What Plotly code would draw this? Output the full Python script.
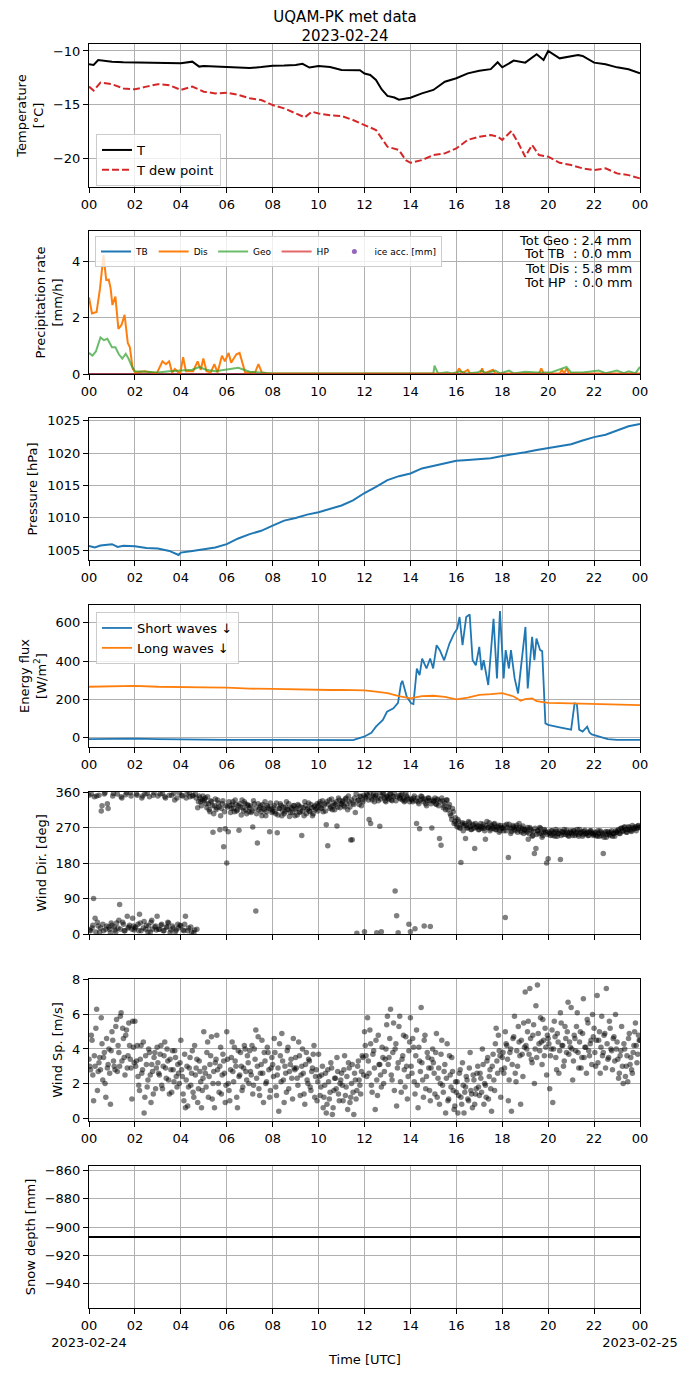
import pandas as pd
import plotly.graph_objects as go

BASE = pd.Timestamp("2023-02-24 00:00")
END = pd.Timestamp("2023-02-25 00:00")

# ---------------- data ----------------
t_hours = [0, 0.2, 0.4, 0.7, 1, 1.5, 2, 2.5, 3, 3.5, 4, 4.5, 4.8, 5, 5.5, 6, 6.5, 7, 7.5, 8,
           8.5, 9, 9.3, 9.6, 10, 10.5, 11, 11.5, 11.8, 12, 12.25, 12.5, 12.75, 13, 13.3, 13.5,
           14, 14.5, 15, 15.5, 16, 16.5, 17, 17.5, 17.8, 18, 18.5, 19, 19.5, 19.8, 20, 20.5,
           21, 21.3, 21.5, 22, 22.5, 23, 23.5, 24]
t_vals = [-11.25, -11.3, -10.84, -10.95, -11.0, -11.05, -11.06, -11.1, -11.15, -11.12, -11.15,
          -11.0, -11.46, -11.4, -11.45, -11.46, -11.5, -11.6, -11.5, -11.37, -11.35, -11.3, -11.2,
          -11.55, -11.4, -11.5, -11.78, -11.75, -11.8, -12.1, -12.24, -12.7, -13.6, -14.2, -14.35,
          -14.55, -14.36, -13.96, -13.64, -12.87, -12.55, -12.09, -11.84, -11.7, -11.06, -11.53,
          -10.9, -11.09, -10.31, -10.84, -10.0, -10.69, -10.53, -10.37, -10.47, -11.09, -11.25,
          -11.53, -11.71, -12.09]

td_hours = [0, 0.2, 0.5, 1, 1.5, 2, 2.5, 3, 3.5, 4, 4.5, 5, 5.5, 6, 6.5, 7, 7.5, 8, 8.5, 9,
            9.4, 9.7, 10, 10.5, 11, 11.5, 12, 12.5, 13, 13.5, 13.8, 14, 14.5, 15, 15.5, 16,
            16.5, 17, 17.5, 17.8, 18, 18.4, 18.7, 19, 19.3, 19.6, 20, 20.5, 21, 21.5, 22, 22.5,
            23, 23.5, 24]
td_vals = [-13.33, -13.7, -12.96, -13.1, -13.5, -13.58, -13.33, -13.1, -13.2, -13.64, -13.33,
           -13.8, -13.96, -13.9, -14.1, -14.42, -14.58, -15.05, -15.36, -15.83, -16.2, -15.67,
           -15.83, -16.0, -16.07, -16.45, -16.9, -17.38, -18.94, -19.25, -20.2, -20.44, -20.19,
           -19.72, -19.56, -19.1, -18.3, -18.0, -17.85, -18.0, -18.3, -17.48, -18.6, -19.87,
           -18.78, -19.72, -19.87, -20.44, -20.65, -20.96, -21.12, -20.96, -21.43, -21.59, -21.9]

dis_hours = [0, 0.13, 0.33, 0.48, 0.63, 0.75, 0.86, 0.94, 1.02, 1.15, 1.28, 1.42, 1.55, 1.69,
             1.78, 1.9, 2.01, 2.43, 2.95, 3.2, 3.35, 3.49, 3.62, 3.74, 3.97, 4.1, 4.22, 4.54,
             4.73, 4.87, 4.98, 5.12, 5.3, 5.46, 5.6, 5.79, 5.92, 6.08, 6.19, 6.42, 6.56, 6.69,
             6.8, 7.23, 7.38, 7.53, 7.8, 12, 16.0, 16.12, 16.25, 16.5, 16.6, 17.05, 17.12, 17.2,
             17.6, 17.7, 19.6, 19.7, 19.8, 20.5, 20.6, 20.7, 20.8, 20.9, 24]
dis_rate = [2.72, 2.15, 2.2, 3.04, 4.22, 3.34, 3.35, 3.05, 2.45, 2.75, 1.6, 1.75, 2.1, 1.1,
            0.95, 0.2, 0.05, 0.1, 0.02, 0.45, 0.35, 0.45, 0.05, 0.18, 0.0, 0.6, 0.1, 0.1,
            0.45, 0.15, 0.55, 0.1, 0.05, 0.35, 0.05, 0.65, 0.45, 0.75, 0.4, 0.7, 0.75, 0.4,
            0.05, 0.05, 0.35, 0.05, 0.02, 0.02, 0.02, 0.2, 0.02, 0.15, 0.02, 0.02, 0.2, 0.02,
            0.15, 0.02, 0.02, 0.2, 0.02, 0.02, 0.15, 0.02, 0.2, 0.02, 0.02]

geo_hours = [0, 0.15, 0.3, 0.5, 0.65, 0.8, 1.0, 1.15, 1.3, 1.45, 1.6, 1.72, 1.85, 2.0, 2.5,
             3.0, 3.5, 4.0, 4.5, 4.8, 5.1, 5.5, 6.0, 6.5, 7.0, 7.5, 8.0, 15.0, 15.05, 15.2,
             15.6, 15.8, 16.2, 16.4, 16.9, 17.1, 17.3, 17.7, 17.9, 18.3, 18.5, 19.0, 19.5,
             20.1, 20.8, 21.0, 21.5, 22.2, 22.5, 23.0, 23.3, 23.5, 23.8, 24]
geo_rate = [0.75, 0.65, 0.8, 1.3, 1.2, 1.25, 0.95, 0.95, 0.7, 0.55, 0.72, 0.55, 0.3, 0.1, 0.08,
            0.05, 0.1, 0.12, 0.15, 0.25, 0.15, 0.1, 0.15, 0.22, 0.08, 0.05, 0.02, 0.02, 0.3,
            0.02, 0.06, 0.02, 0.1, 0.02, 0.05, 0.12, 0.02, 0.12, 0.02, 0.12, 0.02, 0.08, 0.05,
            0.05, 0.25, 0.05, 0.05, 0.12, 0.03, 0.12, 0.03, 0.1, 0.03, 0.25]

tb_hours = [0, 24]
tb_rate = [0.0, 0.0]
hp_hours = [0, 24]
hp_rate = [0.0, 0.0]

precip_totals = ["Tot Geo : 2.4 mm", "Tot TB\u00a0\u00a0: 0.0 mm",
                 "Tot Dis : 5.8 mm", "Tot HP\u00a0\u00a0: 0.0 mm"]

p_hours = [0, 0.25, 0.5, 1, 1.25, 1.5, 2, 2.5, 3, 3.5, 3.9, 4, 4.5, 5, 5.5, 6, 6.5, 7, 7.5,
           8, 8.5, 9, 9.5, 10, 10.5, 11, 11.5, 12, 12.5, 13, 13.5, 14, 14.5, 15, 15.5, 16,
           16.5, 17, 17.5, 18, 18.5, 19, 19.5, 20, 20.5, 21, 21.5, 22, 22.5, 23, 23.5, 24]
p_vals = [1005.68, 1005.42, 1005.73, 1005.94, 1005.52, 1005.68, 1005.62, 1005.36, 1005.26,
          1004.9, 1004.27, 1004.64, 1004.9, 1005.16, 1005.42, 1005.94, 1006.82, 1007.49, 1008.0,
          1008.79, 1009.57, 1009.99, 1010.5, 1010.87, 1011.39, 1011.91, 1012.69, 1013.83,
          1014.77, 1015.81, 1016.43, 1016.84, 1017.62, 1018.04, 1018.51, 1018.82, 1018.92,
          1019.03, 1019.18, 1019.55, 1019.81, 1020.12, 1020.48, 1020.74, 1021.1, 1021.36,
          1021.94, 1022.45, 1022.82, 1023.49, 1024.12, 1024.48]

sw_hours = [0, 1, 2, 3, 4, 6, 8, 10, 11, 11.5, 11.98, 12.3, 12.5, 12.8, 12.98, 13.26, 13.46,
            13.59, 13.65, 13.84, 14.03, 14.13, 14.28, 14.4, 14.51, 14.7, 14.86, 14.99, 15.14,
            15.28, 15.47, 15.7, 15.9, 16.04, 16.14, 16.27, 16.43, 16.58, 16.71, 16.85, 17.0,
            17.1, 17.19, 17.39, 17.62, 17.77, 17.9, 18.06, 18.15, 18.29, 18.38, 18.54, 18.69,
            19.01, 19.11, 19.3, 19.4, 19.49, 19.65, 19.74, 19.88, 20.0, 20.5, 21.0, 21.15,
            21.25, 21.35, 21.5, 21.7, 21.8, 21.9, 22.2, 22.6, 23, 24]
sw_vals = [-10, -8, -7, -10, -12, -14, -14, -15, -15, -15, 3, 24, 56, 91, 134, 152, 181, 282,
           296, 213, 178, 174, 361, 326, 413, 361, 413, 361, 483, 457, 404, 492, 544, 570, 631,
           483, 631, 645, 404, 378, 474, 352, 404, 274, 622, 309, 662, 309, 457, 361, 457, 309,
           230, 579, 256, 527, 404, 518, 457, 452, 73, 65, 52, 40, 178, 175, 40, 30, 56, 25,
           15, 3, -10, -14, -14]

lw_hours = [0, 1, 2, 3, 4, 5, 6, 7, 8, 9, 10, 10.5, 11, 12, 12.5, 13, 13.5, 14, 14.5, 15,
            15.5, 16, 16.5, 17, 17.5, 18, 18.5, 18.8, 19, 19.3, 19.5, 20, 21, 22, 23, 24]
lw_vals = [265, 266, 270, 265, 262, 262, 260, 255, 254, 251, 251, 248, 249, 246, 239, 232,
           216, 204, 216, 218, 212, 199, 208, 222, 226, 232, 214, 192, 200, 204, 190, 181,
           178, 176, 172, 169]

# wind direction, samples at :00, :04, :08 ... (15 per hour)
wdir_a = [
    352, 8, 15, 90, 40, 350, 20, 5, 312, 25, 355, 12, 330, 18, 3,
    22, 356, 10, 28, 15, 75, 348, 30, 8, 353, 45, 18, 358, 12, 20,
    15, 355, 25, 50, 8, 350, 32, 12, 357, 20, 5, 35, 352, 18, 10,
    350, 12, 22, 356, 8, 345, 18, 28, 4, 352, 15, 340, 10, 25, 358,
    20, 350, 8, 45, 355, 15, 348, 5, 352, 10, 345, 320, 350, 335, 340,
    338, 345, 320, 330, 310, 335, 258, 325, 315, 340, 322, 300, 330, 221, 267,
    180, 259, 325, 318, 335, 310, 328, 315, 263, 322, 340, 312, 330, 305, 325,
    320, 308, 271, 330, 58, 231, 315, 325, 300, 318, 335, 310, 322, 259, 316,
    312, 325, 305, 257, 318, 330, 300, 322, 310, 335, 315, 298, 320, 308, 326,
    315, 302, 325, 310, 250, 320, 335, 305, 318, 312, 328, 300, 322, 315, 330,
    325, 335, 318, 310, 330, 277, 224, 340, 322, 315, 332, 328, 274, 345, 320,
    330, 338, 322, 345, 315, 335, 238, 239, 328, 308, 2, 340, 350, 325, 335,
    6, 345, 352, 290, 280, 340, 355, 348, 3, 338, 273, 6, 358, 345, 335,
    350, 342, 355, 338, 348, 109, 46, 3, 345, 352, 340, 335, 358, 347, 25,
    6, 340, 345, 13, 280, 335, 267, 350, 342, 20, 330, 338, 345, 19, 269,
    335, 345, 328, 340, 242, 225, 338, 325, 315, 340, 322, 305, 290, 310, 285,
    278, 290, 270, 181, 282, 275, 242, 268, 285, 272, 265, 278, 217, 270, 275,
    265, 280, 272, 268, 240, 285, 270, 262, 276, 268, 280, 265, 272, 258, 275,
    270, 262, 42, 278, 194, 268, 260, 275, 265, 270, 258, 280, 262, 268, 255,
    265, 258, 240, 270, 262, 250, 204, 217, 262, 255, 268, 245, 258, 262, 180,
    191, 255, 262, 250, 258, 265, 248, 255, 189, 260, 252, 258, 263, 250, 256,
    258, 250, 262, 255, 265, 248, 257, 260, 252, 263, 255, 250, 258, 262, 254,
    252, 258, 248, 255, 262, 250, 204, 256, 245, 260, 253, 258, 248, 255, 262,
    258, 265, 255, 268, 262, 272, 258, 265, 270, 262, 275, 266, 272, 268, 275,
    270,
]
# wind direction, samples at :02, :06, :10 ... (15 per hour)
wdir_b = [
    10, 355, 22, 348, 5, 30, 352, 15, 325, 8, 358, 20, 318, 12, 28,
    350, 18, 5, 355, 35, 12, 345, 25, 8, 358, 15, 22, 350, 40, 10,
    18, 352, 8, 28, 345, 15, 355, 22, 5, 348, 30, 12, 358, 20, 45,
    12, 355, 25, 8, 348, 18, 30, 352, 10, 20, 357, 6, 345, 15, 22,
    352, 10, 25, 345, 8, 358, 18, 350, 3, 355, 12, 335, 345, 325, 350,
    342, 330, 348, 315, 338, 325, 305, 342, 320, 332, 264, 318, 338, 310, 325,
    322, 335, 308, 328, 318, 340, 312, 325, 330, 302, 320, 335, 315, 328, 310,
    325, 312, 338, 318, 305, 330, 320, 310, 328, 315, 300, 325, 318, 332, 308,
    320, 310, 332, 302, 318, 326, 312, 305, 322, 316, 330, 308, 318, 325, 300,
    318, 328, 308, 322, 312, 300, 326, 316, 332, 310, 320, 305, 325, 318, 312,
    330, 320, 338, 325, 312, 335, 328, 318, 342, 325, 315, 335, 322, 340, 330,
    335, 325, 342, 330, 350, 322, 340, 332, 345, 355, 338, 328, 348, 340, 352,
    348, 355, 340, 358, 345, 350, 335, 352, 345, 358, 342, 350, 355, 338, 348,
    345, 355, 340, 350, 358, 338, 348, 352, 342, 355, 345, 338, 350, 342, 335,
    342, 335, 350, 338, 345, 330, 340, 348, 335, 342, 325, 345, 338, 330, 340,
    338, 330, 342, 325, 335, 345, 320, 332, 340, 315, 328, 300, 318, 280, 295,
    272, 285, 268, 278, 262, 280, 275, 270, 282, 265, 276, 268, 280, 272, 264,
    272, 268, 278, 262, 275, 270, 282, 266, 272, 278, 264, 270, 276, 262, 268,
    268, 275, 262, 270, 278, 255, 268, 272, 262, 276, 266, 270, 258, 274, 264,
    262, 270, 255, 266, 248, 260, 268, 252, 262, 270, 256, 250, 265, 258, 252,
    258, 250, 262, 255, 248, 260, 254, 262, 250, 258, 265, 252, 256, 248, 262,
    255, 262, 250, 258, 252, 265, 256, 248, 260, 254, 258, 250, 262, 256, 250,
    256, 250, 262, 248, 258, 254, 245, 260, 252, 257, 250, 262, 255, 248, 258,
    262, 255, 268, 260, 270, 264, 258, 272, 265, 260, 270, 268, 262, 274, 270,
]

# wind speed, samples at :00, :04, :08 ... (15 per hour)
wspd_a = [
    3.4, 2.8, 4.5, 1.0, 3.0, 6.3, 2.7, 3.5, 5.8, 2.2, 3.8, 1.2, 2.9, 4.0, 0.8,
    5.0, 3.3, 2.8, 5.7, 4.2, 3.0, 6.1, 5.2, 3.5, 4.8, 2.9, 5.5, 3.4, 1.1, 4.1,
    5.6, 3.3, 2.4, 1.6, 4.2, 2.8, 0.3, 3.6, 1.8, 4.0, 2.5, 3.1, 1.4, 3.8, 2.9,
    3.2, 2.5, 4.2, 1.7, 3.6, 2.9, 4.0, 2.2, 3.4, 1.5, 2.8, 3.9, 2.4, 3.1, 2.0,
    4.5, 2.4, 1.0, 0.6, 3.0, 1.8, 3.5, 2.6, 1.5, 4.2, 2.9, 0.9, 3.3, 2.1, 1.6,
    5.0, 2.6, 3.8, 1.2, 3.1, 4.7, 2.0, 0.6, 3.4, 2.8, 1.5, 4.1, 2.5, 3.3, 0.9,
    5.0, 2.0, 1.0, 3.5, 2.7, 4.1, 3.0, 0.6, 2.4, 3.8, 1.6, 2.9, 4.0, 2.2, 3.2,
    3.9, 2.5, 1.4, 4.0, 5.1, 3.0, 1.7, 2.6, 4.5, 0.9, 3.3, 2.1, 3.8, 1.2, 2.9,
    3.1, 4.6, 1.8, 2.5, 0.4, 3.6, 4.9, 2.2, 3.0, 1.5, 4.1, 2.7, 3.4, 1.1, 2.9,
    3.5, 2.3, 4.4, 1.3, 3.0, 2.6, 0.8, 3.8, 2.0, 3.3, 1.6, 2.9, 4.2, 2.4, 1.0,
    3.7, 1.3, 2.5, 0.6, 1.9, 0.3, 2.8, 1.1, 3.2, 0.2, 1.6, 2.3, 3.5, 1.4, 2.0,
    2.6, 1.0, 3.6, 1.8, 0.5, 2.9, 1.2, 3.1, 0.2, 2.2, 1.6, 3.3, 1.9, 2.7, 3.5,
    5.0, 3.6, 5.8, 2.6, 4.3, 1.5, 3.9, 0.5, 2.2, 4.8, 3.1, 1.8, 3.5, 2.7, 4.0,
    5.9, 3.5, 6.3, 2.2, 5.5, 4.0, 0.7, 3.2, 5.9, 1.5, 3.6, 2.8, 4.7, 1.1, 3.9,
    5.8, 2.6, 4.1, 1.4, 5.1, 0.6, 3.3, 6.4, 2.2, 4.5, 1.7, 3.8, 2.9, 1.0, 3.4,
    3.2, 1.4, 4.9, 2.3, 0.8, 3.7, 1.9, 2.7, 0.3, 4.3, 1.1, 2.5, 3.5, 1.6, 0.7,
    1.5, 0.3, 2.6, 1.2, 3.2, 0.3, 1.8, 2.2, 1.0, 3.8, 1.4, 2.5, 0.8, 1.7, 3.0,
    1.3, 2.3, 4.0, 0.8, 1.9, 3.3, 1.1, 2.8, 0.4, 3.7, 1.6, 5.2, 2.6, 3.9, 1.2,
    3.5, 2.6, 5.0, 4.2, 1.0, 3.8, 0.4, 4.6, 5.9, 2.1, 3.0, 4.4, 0.8, 3.7, 5.5,
    7.3, 4.0, 5.6, 7.5, 3.4, 4.8, 2.0, 6.5, 7.7, 4.3, 5.8, 3.1, 4.5, 5.2, 2.5,
    4.6, 1.7, 4.0, 0.9, 5.6, 3.5, 4.9, 2.6, 6.1, 4.2, 3.0, 5.3, 3.8, 6.7, 4.4,
    6.4, 2.2, 4.8, 3.9, 6.1, 2.9, 5.0, 3.5, 6.9, 4.1, 2.6, 5.5, 3.6, 4.5, 6.0,
    5.2, 3.0, 7.1, 4.5, 2.6, 5.9, 3.8, 4.9, 7.5, 3.4, 5.6, 4.0, 2.8, 4.7, 6.0,
    4.4, 2.3, 3.6, 5.3, 2.0, 4.0, 3.0, 2.1, 4.9, 3.5, 2.6, 4.2, 5.5, 3.2, 4.8,
    4.5,
]
# wind speed, samples at :02, :06, :10 ... (15 per hour)
wspd_b = [
    3.0, 4.8, 2.5, 3.6, 5.2, 1.6, 3.2, 2.8, 4.3, 3.5, 2.0, 4.6, 3.1, 2.6, 3.9,
    4.5, 3.0, 5.3, 2.7, 3.8, 5.9, 3.3, 4.6, 2.5, 5.1, 3.6, 4.2, 2.9, 5.6, 3.2,
    3.0, 4.2, 1.9, 3.4, 2.6, 4.4, 1.2, 3.1, 2.2, 3.8, 0.9, 2.7, 3.5, 1.7, 4.1,
    2.6, 3.7, 1.9, 3.0, 4.4, 2.3, 3.3, 1.4, 2.8, 3.9, 2.1, 3.5, 1.8, 2.6, 3.2,
    2.8, 1.4, 3.7, 2.2, 0.7, 2.9, 1.9, 3.9, 1.2, 2.5, 3.4, 1.7, 2.7, 0.6, 2.3,
    2.9, 1.8, 4.4, 2.4, 3.6, 1.1, 2.7, 3.2, 4.8, 2.0, 3.0, 1.4, 3.7, 2.6, 1.9,
    3.4, 1.6, 2.8, 4.4, 2.1, 3.3, 1.2, 3.9, 2.5, 3.0, 1.8, 4.2, 2.7, 3.6, 2.0,
    2.7, 4.2, 1.9, 3.4, 2.3, 4.7, 1.3, 3.1, 2.6, 3.8, 2.0, 4.1, 2.8, 1.6, 3.5,
    2.4, 3.8, 1.3, 2.9, 4.3, 2.1, 3.3, 0.9, 2.6, 3.9, 1.7, 3.1, 2.3, 4.6, 2.8,
    2.9, 1.9, 3.6, 2.5, 4.0, 1.4, 3.1, 2.2, 3.4, 1.8, 2.7, 3.7, 1.2, 2.8, 2.1,
    2.4, 1.8, 3.0, 1.2, 2.6, 0.8, 2.1, 1.5, 2.9, 0.6, 2.3, 1.7, 2.7, 1.0, 2.2,
    1.9, 2.8, 1.3, 2.4, 3.2, 0.9, 2.0, 1.5, 2.6, 1.1, 3.0, 2.2, 1.4, 3.6, 2.5,
    4.2, 2.4, 3.3, 5.1, 1.9, 3.7, 2.9, 4.5, 1.3, 3.1, 2.5, 4.1, 2.0, 3.4, 5.4,
    3.1, 4.6, 2.5, 3.8, 1.6, 4.3, 2.9, 5.3, 2.1, 3.4, 4.8, 1.8, 3.0, 2.4, 4.4,
    3.0, 4.6, 2.1, 3.6, 1.9, 4.1, 2.7, 3.2, 1.2, 4.8, 2.4, 3.5, 1.6, 2.9, 4.0,
    2.6, 3.8, 1.2, 2.9, 2.0, 4.5, 1.5, 3.1, 2.3, 1.0, 3.6, 1.8, 2.7, 0.5, 2.1,
    2.1, 1.3, 2.8, 0.8, 1.9, 1.5, 2.4, 1.1, 2.9, 1.6, 0.6, 2.2, 1.4, 2.6, 1.8,
    2.6, 1.5, 3.1, 2.0, 1.2, 3.5, 2.4, 1.7, 3.0, 2.2, 4.3, 3.3, 4.8, 3.6, 2.8,
    3.8, 2.9, 4.3, 3.4, 2.2, 4.0, 3.1, 4.7, 2.6, 3.9, 5.3, 3.6, 4.5, 2.4, 4.1,
    4.2, 5.0, 3.7, 4.6, 3.2, 5.4, 4.0, 3.5, 4.9, 3.9, 4.4, 5.7, 3.6, 4.1, 4.8,
    4.3, 3.6, 5.1, 4.0, 4.7, 2.8, 4.4, 3.9, 5.5, 4.2, 3.3, 4.6, 5.0, 3.7, 4.1,
    4.0, 3.3, 4.6, 5.3, 3.8, 4.4, 2.9, 4.9, 3.5, 4.1, 5.7, 3.9, 4.3, 3.1, 4.7,
    3.8, 4.5, 3.2, 5.0, 4.1, 3.6, 4.8, 2.9, 4.3, 3.5, 5.2, 3.9, 4.6, 3.3, 4.0,
    3.4, 2.6, 3.9, 3.0, 4.3, 2.4, 3.6, 4.6, 3.1, 2.8, 3.8, 5.0, 4.2, 3.7, 4.5,
]

snow_hours = [0, 24]
snow_depth = [-907, -907]

hour_labels = ["00", "02", "04", "06", "08", "10", "12", "14", "16", "18", "20", "22", "00"]

# ---------------- helpers ----------------
def ts(hours):
    return [BASE + pd.to_timedelta(h, unit="h") for h in hours]

times_a = list(pd.date_range(BASE, periods=len(wdir_a), freq="4min"))
times_b = list(pd.date_range(BASE + pd.Timedelta(minutes=2), periods=len(wdir_b), freq="4min"))

OFF = 8                      # page body margin
W, H = 690 - 2 * OFF, 1377 - 2 * OFF


def px_x(p):
    return (p - OFF) / W


def px_y(p):
    return 1 - (p - OFF) / H


X0, X1 = px_x(89), px_x(640)
panel_px = [(44, 187), (231, 374), (418, 560), (605, 747), (792, 934), (979, 1121), (1166, 1308)]
FONT = "DejaVu Sans"
GRID = "#b0b0b0"

tickvals = list(pd.date_range(BASE, END, freq="2h"))

fig = go.Figure()

# temperature
fig.add_trace(go.Scatter(x=ts(t_hours), y=t_vals, mode="lines", name="T",
                         line=dict(color="black", width=2), xaxis="x", yaxis="y", legend="legend"))
fig.add_trace(go.Scatter(x=ts(td_hours), y=td_vals, mode="lines", name="T dew point",
                         line=dict(color="#d62728", width=2, dash="7px,3px"),
                         xaxis="x", yaxis="y", legend="legend"))

# precipitation
fig.add_trace(go.Scatter(x=ts(tb_hours), y=tb_rate, mode="lines", name="TB",
                         line=dict(color="#1f77b4", width=2), xaxis="x2", yaxis="y2", legend="legend2"))
fig.add_trace(go.Scatter(x=ts(dis_hours), y=dis_rate, mode="lines", name="Dis",
                         line=dict(color="#ff7f0e", width=2), xaxis="x2", yaxis="y2", legend="legend2"))
fig.add_trace(go.Scatter(x=ts(geo_hours), y=geo_rate, mode="lines", name="Geo",
                         line=dict(color="rgba(44,160,44,0.7)", width=2), xaxis="x2", yaxis="y2",
                         legend="legend2"))
fig.add_trace(go.Scatter(x=ts(hp_hours), y=hp_rate, mode="lines", name="HP",
                         line=dict(color="rgba(214,39,40,0.7)", width=2), xaxis="x2", yaxis="y2",
                         legend="legend2"))
fig.add_trace(go.Scatter(x=[None], y=[None], mode="markers", name="ice acc. [mm]",
                         marker=dict(color="#9467bd", size=5), xaxis="x2", yaxis="y2",
                         legend="legend2"))

# pressure
fig.add_trace(go.Scatter(x=ts(p_hours), y=p_vals, mode="lines", showlegend=False,
                         line=dict(color="#1f77b4", width=2), xaxis="x3", yaxis="y3"))

# energy flux
fig.add_trace(go.Scatter(x=ts(sw_hours), y=sw_vals, mode="lines", name="Short waves \u2193",
                         line=dict(color="#1f77b4", width=1.8), xaxis="x4", yaxis="y4", legend="legend3"))
fig.add_trace(go.Scatter(x=ts(lw_hours), y=lw_vals, mode="lines", name="Long waves \u2193",
                         line=dict(color="#ff7f0e", width=1.8), xaxis="x4", yaxis="y4", legend="legend3"))

# wind
mk = dict(color="black", opacity=0.5, size=5.5, line=dict(width=0))
fig.add_trace(go.Scatter(x=times_a + times_b, y=wdir_a + wdir_b, mode="markers", showlegend=False,
                         marker=mk, xaxis="x5", yaxis="y5"))
fig.add_trace(go.Scatter(x=times_a + times_b, y=wspd_a + wspd_b, mode="markers", showlegend=False,
                         marker=mk, xaxis="x6", yaxis="y6"))

# snow
fig.add_trace(go.Scatter(x=ts(snow_hours), y=snow_depth, mode="lines", showlegend=False,
                         line=dict(color="black", width=2), xaxis="x7", yaxis="y7"))

y_cfg = [
    dict(range=[-22.7, -9.35], tickvals=[-20, -15, -10], title="Temperature<br>[°C]"),
    dict(range=[0, 5.08], tickvals=[0, 2, 4], title="Precipitation rate<br>[mm/h]"),
    dict(range=[1003.5, 1025.4], tickvals=[1005, 1010, 1015, 1020, 1025], title="Pressure [hPa]"),
    dict(range=[-51, 694], tickvals=[0, 200, 400, 600], title="Energy flux<br>[W/m<sup>2</sup>]"),
    dict(range=[0, 360], tickvals=[0, 90, 180, 270, 360], title="Wind Dir. [deg]"),
    dict(range=[-0.17, 8.05], tickvals=[0, 2, 4, 6, 8], title="Wind Sp. [m/s]"),
    dict(range=[-957, -857], tickvals=[-940, -920, -900, -880, -860], title="Snow depth [mm]"),
]

layout = dict(width=W, height=H, margin=dict(l=0, r=0, t=0, b=0),
              paper_bgcolor="white", plot_bgcolor="white", template="none",
              font=dict(family=FONT, size=13, color="black"))

common = dict(showgrid=True, gridcolor=GRID, gridwidth=1, showline=True, mirror=True,
              linecolor="black", linewidth=1, ticks="outside", ticklen=5, tickwidth=1,
              tickcolor="black", tickfont=dict(family=FONT, size=13, color="black"),
              zeroline=False, automargin=False)

for i, (top, bot) in enumerate(panel_px):
    n = i + 1
    sfx = "" if n == 1 else str(n)
    labels = list(hour_labels)
    if n == 7:
        labels[0] = "00<br>2023-02-24"
        labels[-1] = "00<br>2023-02-25"
    xa = dict(common, domain=[X0, X1], anchor="y" + sfx, type="date", tickangle=0,
              range=[BASE, END], tickvals=tickvals, ticktext=labels,
              showticklabels=(n != 5))
    yc = y_cfg[i]
    ya = dict(common, domain=[px_y(bot), px_y(top)], anchor="x" + sfx, range=yc["range"],
              tickvals=yc["tickvals"],
              title=dict(text=yc["title"], font=dict(family=FONT, size=13, color="black"),
                         standoff=6))
    layout["xaxis" + sfx] = xa
    layout["yaxis" + sfx] = ya

layout["title"] = dict(text="UQAM-PK met data<br>2023-02-24", x=0.5, xanchor="center",
                       y=px_y(21.5), yanchor="middle",
                       font=dict(family=FONT, size=15, color="black"))

legend_common = dict(bgcolor="rgba(255,255,255,0.8)", bordercolor="#cccccc", borderwidth=1,
                     xanchor="left", yanchor="top")
layout["legend"] = dict(legend_common, x=px_x(96), y=px_y(134),
                        font=dict(family=FONT, size=13, color="black"))
layout["legend2"] = dict(legend_common, x=px_x(95), y=px_y(236), orientation="h",
                         font=dict(family=FONT, size=9, color="black"), tracegroupgap=0)
layout["legend3"] = dict(legend_common, x=px_x(96), y=px_y(612),
                         font=dict(family=FONT, size=13, color="black"))

annos = []
tot_y = [240, 254, 268, 282]
for txt, yy in zip(precip_totals, tot_y):
    annos.append(dict(text=txt, x=px_x(634), y=px_y(yy), xref="paper", yref="paper",
                      xanchor="right", yanchor="middle", showarrow=False,
                      font=dict(family=FONT, size=13, color="black")))
annos.append(dict(text="Time [UTC]", x=(X0 + X1) / 2, y=px_y(1359), xref="paper", yref="paper",
                  xanchor="center", yanchor="middle", showarrow=False,
                  font=dict(family=FONT, size=13, color="black")))
layout["annotations"] = annos

fig.update_layout(**layout)
fig.write_html("out.html")
